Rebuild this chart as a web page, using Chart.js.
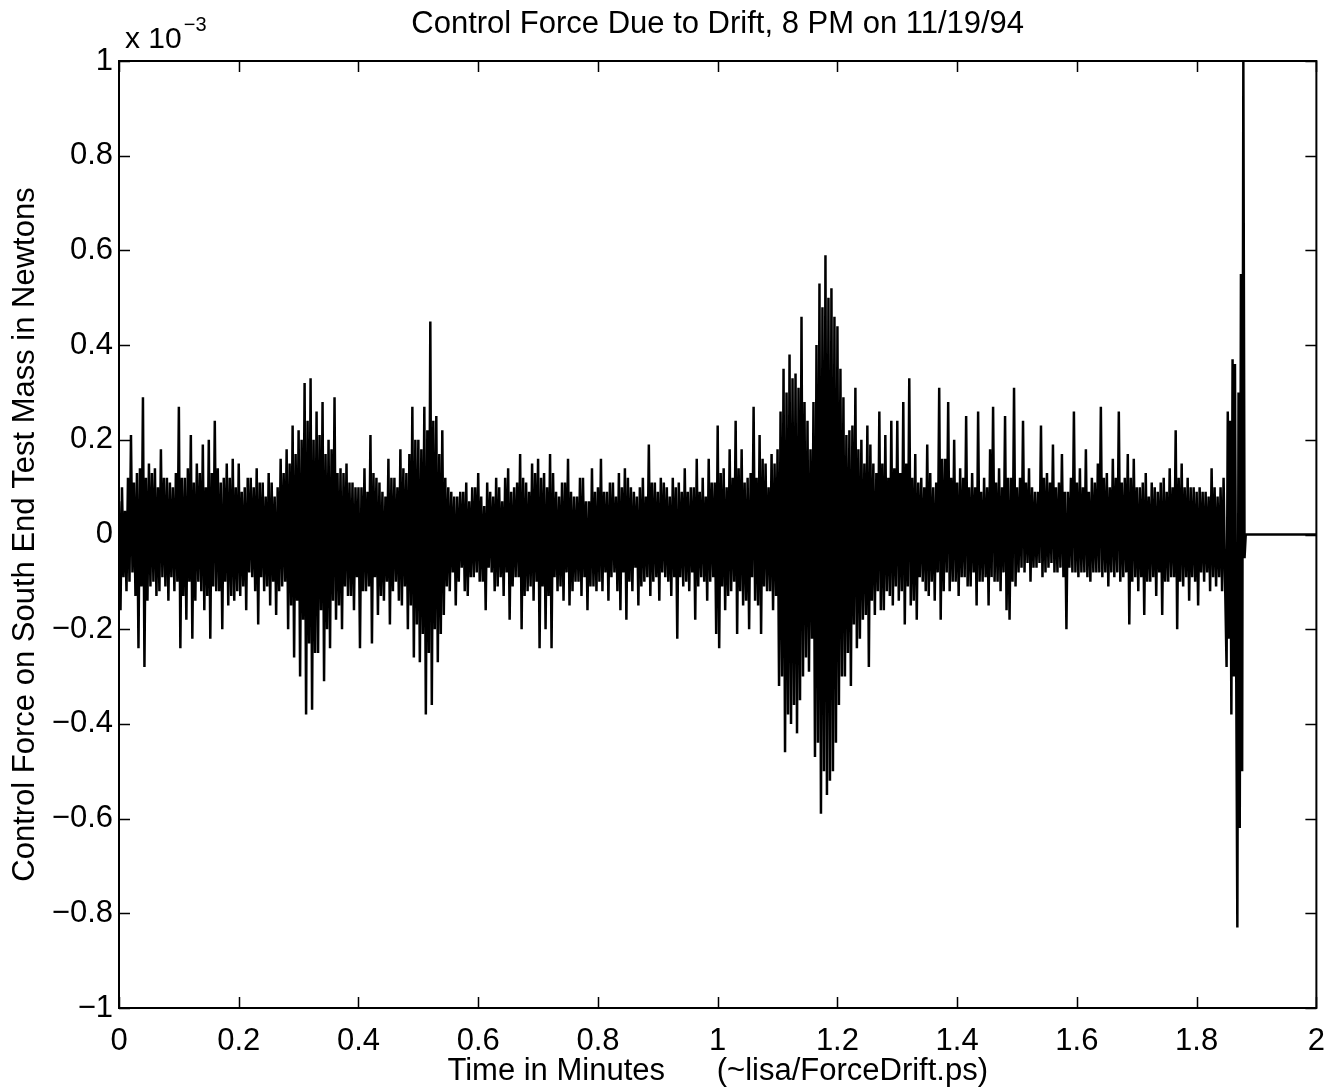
<!DOCTYPE html>
<html>
<head>
<meta charset="utf-8">
<title>Control Force Due to Drift</title>
<script src="https://cdn.jsdelivr.net/npm/chart.js@4.4.1/dist/chart.umd.min.js"></script>
<style>
  html, body { margin: 0; padding: 0; background: #fff; }
  #wrap { width: 1340px; height: 1090px; }
</style>
</head>
<body>
<div id="wrap"><canvas id="forceChart" width="1340" height="1090"></canvas></div>
<script>
// chart text
const titleText = 'Control Force Due to Drift, 8 PM on 11/19/94';
const xLabel = 'Time in Minutes      (~lisa/ForceDrift.ps)';
const yLabel = 'Control Force on South End Test Mass in Newtons';

// axis ticks (force axis is in units of 10^-3 N)
const xTicks = [0, 0.2, 0.4, 0.6, 0.8, 1, 1.2, 1.4, 1.6, 1.8, 2];
const yTicks = [-1, -0.8, -0.6, -0.4, -0.2, 0, 0.2, 0.4, 0.6, 0.8, 1];

// sampled force, one array per 0.1 minute, sample every 0.0025 min
const timeStep = 0.0025;
const force00 = [0.07, -0.16, 0.10, -0.09, 0.05, -0.12, 0.12, -0.10, 0.21, -0.08, 0.11, -0.13, 0.13, -0.24, 0.14, -0.11, 0.29, -0.28, 0.12, -0.14,
                 0.15, -0.11, 0.13, -0.10, 0.14, -0.13, 0.10, -0.12, 0.18, -0.09, 0.12, -0.11, 0.12, -0.14, 0.11, -0.09, 0.10, -0.12, 0.13, -0.10];
const force01 = [0.27, -0.24, 0.12, -0.13, 0.12, -0.18, 0.14, -0.10, 0.21, -0.22, 0.11, -0.14, 0.15, -0.10, 0.13, -0.12, 0.19, -0.16, 0.10, -0.13,
                 0.20, -0.22, 0.13, -0.11, 0.24, -0.12, 0.14, -0.12, 0.11, -0.20, 0.12, -0.10, 0.15, -0.15, 0.12, -0.13, 0.16, -0.14, 0.10, -0.12];
const force02 = [0.15, -0.13, 0.09, -0.11, 0.10, -0.16, 0.12, -0.08, 0.12, -0.09, 0.10, -0.12, 0.14, -0.19, 0.11, -0.09, 0.11, -0.12, 0.08, -0.11,
                 0.13, -0.15, 0.11, -0.10, 0.08, -0.17, 0.10, -0.12, 0.16, -0.11, 0.13, -0.10, 0.18, -0.20, 0.15, -0.15, 0.23, -0.26, 0.17, -0.14];
const force03 = [0.22, -0.30, 0.20, -0.18, 0.32, -0.38, 0.24, -0.23, 0.33, -0.37, 0.20, -0.25, 0.26, -0.25, 0.21, -0.16, 0.28, -0.31, 0.17, -0.20,
                 0.20, -0.24, 0.18, -0.14, 0.29, -0.18, 0.13, -0.15, 0.14, -0.20, 0.13, -0.11, 0.15, -0.13, 0.11, -0.13, 0.11, -0.16, 0.10, -0.09];
const force04 = [0.10, -0.24, 0.10, -0.12, 0.14, -0.12, 0.09, -0.11, 0.21, -0.23, 0.13, -0.09, 0.12, -0.17, 0.11, -0.13, 0.09, -0.14, 0.08, -0.10,
                 0.16, -0.19, 0.12, -0.12, 0.12, -0.10, 0.10, -0.14, 0.18, -0.15, 0.14, -0.11, 0.13, -0.20, 0.17, -0.15, 0.27, -0.26, 0.20, -0.19];
const force05 = [0.20, -0.27, 0.18, -0.21, 0.27, -0.38, 0.22, -0.25, 0.45, -0.36, 0.24, -0.20, 0.25, -0.27, 0.17, -0.21, 0.22, -0.17, 0.12, -0.11,
                 0.10, -0.12, 0.09, -0.08, 0.08, -0.15, 0.08, -0.10, 0.09, -0.07, 0.09, -0.12, 0.11, -0.13, 0.07, -0.09, 0.10, -0.09, 0.10, -0.08];
const force06 = [0.13, -0.10, 0.08, -0.10, 0.06, -0.16, 0.11, -0.07, 0.09, -0.08, 0.08, -0.12, 0.12, -0.11, 0.10, -0.09, 0.07, -0.13, 0.12, -0.08,
                 0.14, -0.18, 0.09, -0.11, 0.10, -0.09, 0.11, -0.09, 0.17, -0.20, 0.12, -0.13, 0.11, -0.12, 0.09, -0.11, 0.15, -0.14, 0.13, -0.10];
const force07 = [0.16, -0.24, 0.12, -0.11, 0.13, -0.20, 0.10, -0.13, 0.17, -0.24, 0.13, -0.09, 0.09, -0.12, 0.08, -0.11, 0.11, -0.14, 0.11, -0.08,
                 0.16, -0.15, 0.09, -0.12, 0.08, -0.10, 0.08, -0.10, 0.12, -0.13, 0.12, -0.09, 0.07, -0.16, 0.07, -0.11, 0.14, -0.11, 0.09, -0.12];
const force08 = [0.10, -0.10, 0.16, -0.12, 0.09, -0.08, 0.09, -0.14, 0.11, -0.09, 0.11, -0.08, 0.08, -0.12, 0.13, -0.16, 0.10, -0.08, 0.14, -0.18,
                 0.12, -0.10, 0.10, -0.12, 0.09, -0.07, 0.08, -0.15, 0.10, -0.11, 0.12, -0.10, 0.08, -0.09, 0.19, -0.13, 0.11, -0.10, 0.11, -0.09];
const force09 = [0.09, -0.14, 0.12, -0.08, 0.11, -0.09, 0.10, -0.10, 0.08, -0.13, 0.12, -0.09, 0.10, -0.22, 0.11, -0.09, 0.09, -0.11, 0.14, -0.10,
                 0.09, -0.12, 0.10, -0.08, 0.10, -0.18, 0.16, -0.11, 0.09, -0.09, 0.12, -0.10, 0.08, -0.14, 0.16, -0.10, 0.11, -0.09, 0.11, -0.21];
const force10 = [0.23, -0.24, 0.13, -0.11, 0.14, -0.16, 0.10, -0.13, 0.18, -0.12, 0.12, -0.10, 0.24, -0.21, 0.14, -0.12, 0.18, -0.15, 0.11, -0.14,
                 0.12, -0.20, 0.13, -0.09, 0.27, -0.14, 0.12, -0.15, 0.21, -0.21, 0.16, -0.11, 0.15, -0.12, 0.10, -0.12, 0.17, -0.16, 0.15, -0.13];
const force11 = [0.18, -0.32, 0.26, -0.30, 0.35, -0.46, 0.30, -0.38, 0.38, -0.40, 0.33, -0.36, 0.34, -0.42, 0.31, -0.35, 0.46, -0.30, 0.28, -0.26,
                 0.24, -0.29, 0.18, -0.22, 0.28, -0.47, 0.40, -0.44, 0.53, -0.59, 0.48, -0.50, 0.59, -0.55, 0.50, -0.52, 0.52, -0.50, 0.46, -0.44];
const force12 = [0.44, -0.36, 0.35, -0.30, 0.29, -0.30, 0.21, -0.25, 0.22, -0.32, 0.23, -0.19, 0.31, -0.24, 0.18, -0.22, 0.20, -0.18, 0.15, -0.17,
                 0.23, -0.28, 0.19, -0.14, 0.15, -0.17, 0.13, -0.12, 0.26, -0.16, 0.15, -0.16, 0.21, -0.12, 0.12, -0.13, 0.24, -0.15, 0.14, -0.11];
const force13 = [0.24, -0.14, 0.13, -0.12, 0.28, -0.19, 0.15, -0.11, 0.33, -0.15, 0.12, -0.14, 0.17, -0.18, 0.11, -0.09, 0.12, -0.10, 0.10, -0.12,
                 0.19, -0.13, 0.13, -0.10, 0.10, -0.14, 0.11, -0.08, 0.31, -0.18, 0.16, -0.12, 0.16, -0.08, 0.28, -0.12, 0.12, -0.10, 0.20, -0.10];
const force14 = [0.11, -0.13, 0.14, -0.09, 0.12, -0.09, 0.25, -0.11, 0.10, -0.11, 0.13, -0.08, 0.10, -0.15, 0.26, -0.10, 0.09, -0.10, 0.12, -0.09,
                 0.10, -0.15, 0.18, -0.09, 0.27, -0.10, 0.11, -0.10, 0.14, -0.12, 0.10, -0.08, 0.25, -0.16, 0.12, -0.18, 0.12, -0.10, 0.31, -0.11];
const force15 = [0.10, -0.08, 0.12, -0.07, 0.24, -0.08, 0.11, -0.06, 0.14, -0.10, 0.10, -0.07, 0.09, -0.07, 0.09, -0.06, 0.23, -0.09, 0.12, -0.08,
                 0.13, -0.07, 0.11, -0.06, 0.19, -0.08, 0.10, -0.08, 0.11, -0.07, 0.17, -0.09, 0.09, -0.20, 0.09, -0.07, 0.12, -0.08, 0.26, -0.08];
const force16 = [0.11, -0.09, 0.14, -0.08, 0.10, -0.08, 0.18, -0.09, 0.09, -0.10, 0.12, -0.08, 0.11, -0.08, 0.15, -0.08, 0.27, -0.09, 0.12, -0.08,
                 0.13, -0.11, 0.10, -0.08, 0.16, -0.09, 0.12, -0.08, 0.26, -0.10, 0.11, -0.09, 0.12, -0.08, 0.17, -0.19, 0.12, -0.10, 0.16, -0.09];
const force17 = [0.10, -0.12, 0.10, -0.09, 0.11, -0.17, 0.13, -0.10, 0.08, -0.10, 0.11, -0.09, 0.10, -0.13, 0.09, -0.08, 0.11, -0.17, 0.12, -0.10,
                 0.09, -0.10, 0.14, -0.09, 0.10, -0.09, 0.22, -0.20, 0.12, -0.10, 0.15, -0.11, 0.10, -0.09, 0.12, -0.14, 0.10, -0.09, 0.10, -0.10];
const force18 = [0.09, -0.15, 0.10, -0.08, 0.09, -0.10, 0.09, -0.08, 0.08, -0.12, 0.14, -0.09, 0.10, -0.11, 0.08, -0.09, 0.10, -0.12, 0.12, -0.10];

// final kick and the flat trace after the loop opens
const tailTimes = [1.850, 1.852, 1.854, 1.856, 1.858, 1.860, 1.862, 1.864, 1.866, 1.868, 1.870, 1.872, 1.874, 1.876, 1.878, 1.880, 1.882, 2.0];
const tailForce = [-0.28, 0.26, -0.22, 0.24, -0.38, 0.37, -0.30, 0.36, -0.25, -0.83, 0.30, -0.62, 0.55, -0.50, 1.0, -0.05, 0.0, 0.0];

const forceRows = [force00, force01, force02, force03, force04, force05, force06, force07, force08, force09,
                   force10, force11, force12, force13, force14, force15, force16, force17, force18];

const FONT = '"Liberation Sans", Helvetica, Arial, sans-serif';

document.addEventListener('DOMContentLoaded', () => {
    initChart();
});

function buildPoints() {
    const pts = [];
    let i = 0;
    forceRows.forEach(row => {
        row.forEach(v => {
            pts.push({x: +(i * timeStep).toFixed(4), y: v});
            i++;
        });
    });
    tailTimes.forEach((t, k) => pts.push({x: t, y: tailForce[k]}));
    return pts;
}

function fmt(v) {
    const s = String(Math.round(v * 10) / 10);
    return s.replace('-', '\u2212');
}

// matlab style box with inward ticks, plus title and exponent
const framePlugin = {
    id: 'frame',
    afterDatasetsDraw(chart) {
        const {ctx, chartArea: a, scales} = chart;
        const xs = scales.x, ys = scales.y;
        const len = 11;
        ctx.save();
        ctx.strokeStyle = '#000';
        ctx.lineWidth = 1.5;
        ctx.beginPath();
        xTicks.forEach(v => {
            const px = Math.round(xs.getPixelForValue(v)) + 0.5;
            ctx.moveTo(px, a.bottom); ctx.lineTo(px, a.bottom - len);
            ctx.moveTo(px, a.top); ctx.lineTo(px, a.top + len);
        });
        yTicks.forEach(v => {
            const py = Math.round(ys.getPixelForValue(v)) + 0.5;
            ctx.moveTo(a.left, py); ctx.lineTo(a.left + len, py);
            ctx.moveTo(a.right, py); ctx.lineTo(a.right - len, py);
        });
        ctx.stroke();
        ctx.lineWidth = 2;
        ctx.strokeRect(a.left, a.top, a.right - a.left, a.bottom - a.top);

        ctx.fillStyle = '#000';
        ctx.textBaseline = 'alphabetic';
        ctx.textAlign = 'center';
        ctx.font = '31px ' + FONT;
        ctx.fillText(titleText, (a.left + a.right) / 2, 33);

        ctx.textAlign = 'left';
        ctx.font = '30px ' + FONT;
        ctx.fillText('x 10', a.left + 6, 48);
        const w = ctx.measureText('x 10').width;
        ctx.font = '20px ' + FONT;
        ctx.fillText('\u22123', a.left + 8 + w, 31);
        ctx.restore();
    }
};

function initChart() {
    const ctx = document.getElementById('forceChart');

    new Chart(ctx, {
        type: 'line',
        data: {
            datasets: [{
                data: buildPoints(),
                borderColor: '#000',
                borderWidth: 2.5,
                pointRadius: 0,
                tension: 0,
                fill: false
            }]
        },
        options: {
            responsive: false,
            animation: false,
            devicePixelRatio: 1,
            layout: { padding: { top: 61, right: 22, bottom: 0, left: 0 } },
            plugins: {
                legend: { display: false },
                tooltip: { enabled: false }
            },
            scales: {
                x: {
                    type: 'linear',
                    min: 0,
                    max: 2,
                    afterBuildTicks: s => { s.ticks = xTicks.map(v => ({value: v})); },
                    afterFit: s => { s.height = 82; },
                    grid: { display: false, drawTicks: false },
                    border: { display: false },
                    ticks: {
                        color: '#000',
                        padding: 15,
                        maxRotation: 0,
                        autoSkip: false,
                        font: { family: FONT, size: 31 },
                        callback: v => fmt(v)
                    },
                    title: {
                        display: true,
                        text: xLabel,
                        color: '#000',
                        padding: { top: 0, bottom: 0 },
                        font: { family: FONT, size: 31, lineHeight: 1.2 }
                    }
                },
                y: {
                    min: -1,
                    max: 1,
                    afterBuildTicks: s => { s.ticks = yTicks.map(v => ({value: v})); },
                    afterFit: s => { s.width = 119; },
                    grid: { display: false, drawTicks: false },
                    border: { display: false },
                    ticks: {
                        color: '#000',
                        padding: 6,
                        autoSkip: false,
                        font: { family: FONT, size: 31 },
                        callback: v => fmt(v)
                    },
                    title: {
                        display: true,
                        text: yLabel,
                        color: '#000',
                        padding: { top: 7, bottom: 0 },
                        font: { family: FONT, size: 31, lineHeight: 1.2 }
                    }
                }
            }
        },
        plugins: [framePlugin]
    });
}
</script>
</body>
</html>
